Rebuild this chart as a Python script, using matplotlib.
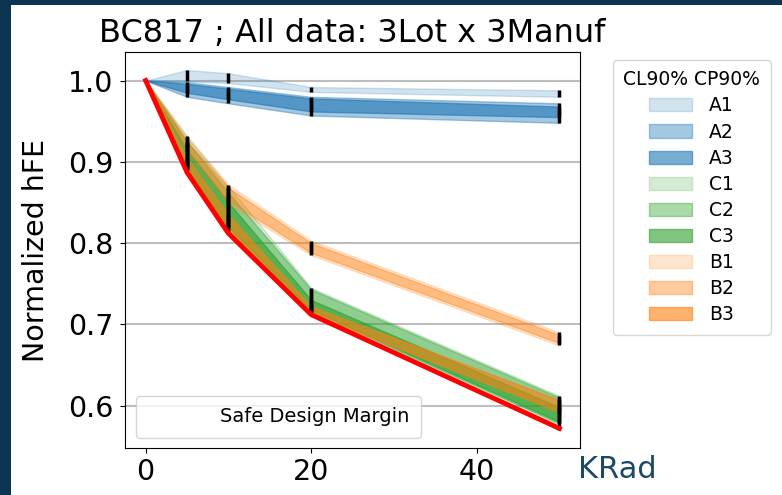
import matplotlib
matplotlib.use("Agg")
import matplotlib.pyplot as plt
from matplotlib.patches import Rectangle
from matplotlib.lines import Line2D

# dose points (KRad)
dose = [0, 5, 10, 20, 50]

# confidence bands (upper / lower) per lot
names = ["A1", "A2", "A3", "C1", "C2", "C3", "B1", "B2", "B3"]
upper = {
    "A1": [1.0, 1.013, 1.009, 0.992, 0.988],
    "A2": [1.0, 0.998, 0.992, 0.980, 0.972],
    "A3": [1.0, 0.996, 0.990, 0.978, 0.968],
    "C1": [1.0, 0.930, 0.870, 0.745, 0.612],
    "C2": [1.0, 0.925, 0.862, 0.743, 0.610],
    "C3": [1.0, 0.915, 0.850, 0.730, 0.598],
    "B1": [1.0, 0.932, 0.872, 0.803, 0.690],
    "B2": [1.0, 0.925, 0.868, 0.800, 0.687],
    "B3": [1.0, 0.905, 0.835, 0.722, 0.607],
}
lower = {
    "A1": [1.0, 0.999, 0.997, 0.986, 0.980],
    "A2": [1.0, 0.980, 0.972, 0.957, 0.948],
    "A3": [1.0, 0.985, 0.977, 0.962, 0.955],
    "C1": [1.0, 0.890, 0.815, 0.713, 0.570],
    "C2": [1.0, 0.893, 0.818, 0.716, 0.578],
    "C3": [1.0, 0.890, 0.820, 0.718, 0.580],
    "B1": [1.0, 0.912, 0.848, 0.785, 0.674],
    "B2": [1.0, 0.915, 0.852, 0.788, 0.677],
    "B3": [1.0, 0.892, 0.815, 0.713, 0.592],
}

# safe design margin (red envelope)
margin = [1.0, 0.887, 0.812, 0.712, 0.572]

colors = {"A": "tab:blue", "C": "tab:green", "B": "tab:orange"}
alphas = {"1": 0.2, "2": 0.4, "3": 0.6}

fig = plt.figure(figsize=(7.82, 4.95), dpi=100)
fig.patch.set_facecolor("#0c3551")
fig.patches.append(Rectangle((11 / 782, 0), 1, 1 - 5 / 495, transform=fig.transFigure,
                             facecolor="white", edgecolor="none", zorder=-10))

ax = fig.add_axes([125 / 782, 1 - 448 / 495, 455 / 782, 396 / 495])

bands = []
for n in names:
    b = ax.fill_between(dose, lower[n], upper[n], color=colors[n[0]], alpha=alphas[n[1]],
                        label=n, zorder=2)
    bands.append(b)

# error bars at each measured dose
for n in names:
    ax.vlines(dose[1:], lower[n][1:], upper[n][1:], color="black", lw=2.5, zorder=3)

ax.plot(dose, margin, color="red", lw=3.5, zorder=4)

ax.set_yticks([0.6, 0.7, 0.8, 0.9, 1.0])
ax.set_xticks([0, 20, 40])
ax.yaxis.grid(True, color="#bdbdbd", lw=1.5)
ax.set_axisbelow(True)
ax.tick_params(labelsize=20.5)
ax.tick_params(axis="y", pad=5)
ax.set_ylabel("Normalized hFE", fontsize=20.5)
ax.yaxis.set_label_coords(-0.165, 0.5)
ax.set_title("BC817 ; All data: 3Lot x 3Manuf", fontsize=23, pad=7)

leg = ax.legend(handles=bands, title="CL90% CP90%", loc="upper left",
                bbox_to_anchor=(613 / 782, 1 - 60 / 495), bbox_transform=fig.transFigure,
                fontsize=13.5, title_fontsize=13.5, labelspacing=0.38, handlelength=2.3,
                handletextpad=0.9, borderpad=0.55, borderaxespad=0)
ax.add_artist(leg)

ax.legend(handles=[Line2D([], [], color="none")], labels=["Safe Design Margin"],
          loc="lower left", fontsize=14, handlelength=2.9, borderpad=0.6,
          bbox_to_anchor=(11 / 455, 10 / 396), bbox_transform=ax.transAxes,
          borderaxespad=0.0)

fig.text(578 / 782, 1 - 470 / 495, "KRad", fontsize=22, color="#1b4a66", va="center")

fig.savefig("out.png", dpi=100, facecolor=fig.get_facecolor())
